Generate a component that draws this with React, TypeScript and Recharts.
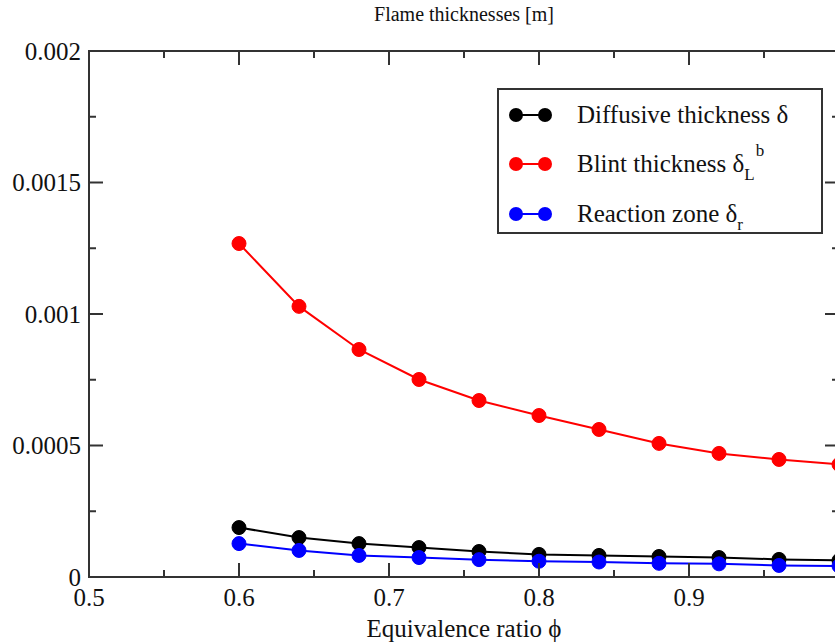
import React from 'react';
import { LineChart, Line, XAxis, YAxis, ReferenceArea, Legend } from 'recharts';

// equivalence ratio samples
const phi = [0.6, 0.64, 0.68, 0.72, 0.76, 0.8, 0.84, 0.88, 0.92, 0.96, 1.0];
// thicknesses [m]
const diffusive = [0.000188, 0.00015, 0.000127, 0.000112, 0.000097, 0.000086, 0.000082, 0.000078, 0.000074, 0.000067, 0.000063];
const blint = [0.001268, 0.001029, 0.000865, 0.000751, 0.000671, 0.000614, 0.000561, 0.000508, 0.00047, 0.000447, 0.000428];
const reaction = [0.000127, 0.000101, 0.000082, 0.000074, 0.000066, 0.00006, 0.000057, 0.000052, 0.00005, 0.000044, 0.000042];

const xTicks = [0.5, 0.55, 0.6, 0.65, 0.7, 0.75, 0.8, 0.85, 0.9, 0.95, 1.0];
const xTickLabels = ['0.5', '', '0.6', '', '0.7', '', '0.8', '', '0.9', '', ''];
const yTicks = [0, 0.00025, 0.0005, 0.00075, 0.001, 0.00125, 0.0015, 0.00175, 0.002];
const yTickLabels = ['0', '', '0.0005', '', '0.001', '', '0.0015', '', '0.002'];

const series = [
  { key: 'diffusive', name: 'Diffusive thickness δ', color: '#000000' },
  { key: 'blint', name: 'Blint thickness δ', color: '#ff0000' },
  { key: 'reaction', name: 'Reaction zone δ', color: '#0000ff' },
];

const data = phi.map((p, i) => ({
  phi: p,
  diffusive: diffusive[i],
  blint: blint[i],
  reaction: reaction[i],
}));

const FONT = '"Liberation Serif", "DejaVu Serif", serif';
const AXIS = '#333333';
const LEFT = 89;
const RIGHT = 839;
const TOP = 51;
const BOTTOM = 577;

const XTick = (props: any) => {
  const { x, index } = props;
  const len = index % 2 === 0 ? 14 : 7;
  return (
    <g>
      <line x1={x} y1={BOTTOM} x2={x} y2={BOTTOM - len} stroke={AXIS} strokeWidth={2} />
      <line x1={x} y1={TOP} x2={x} y2={TOP + len} stroke={AXIS} strokeWidth={2} />
      <text x={x} y={606} textAnchor="middle" fontSize={25} fontFamily={FONT} fill="#111">
        {xTickLabels[index]}
      </text>
    </g>
  );
};

const YTick = (props: any) => {
  const { y, index } = props;
  const len = index % 2 === 0 ? 14 : 7;
  return (
    <g>
      <line x1={LEFT} y1={y} x2={LEFT + len} y2={y} stroke={AXIS} strokeWidth={2} />
      <line x1={RIGHT - len} y1={y} x2={RIGHT} y2={y} stroke={AXIS} strokeWidth={2} />
      <text x={81} y={y + 8.5} textAnchor="end" fontSize={25} fontFamily={FONT} fill="#111">
        {yTickLabels[index]}
      </text>
    </g>
  );
};

const LegendBox = () => (
  <div
    style={{
      width: 322,
      height: 142,
      border: `2px solid ${AXIS}`,
      background: '#fff',
      fontFamily: FONT,
      fontSize: 25,
      color: '#111',
      boxSizing: 'content-box',
    }}
  >
    {series.map((s, i) => (
      <div key={s.key} style={{ height: 49.5, display: 'flex', alignItems: 'center', position: 'relative' }}>
        <svg width={70} height={20} style={{ marginLeft: 4 }}>
          <line x1={13} y1={10} x2={42} y2={10} stroke={s.color} strokeWidth={2} />
          <circle cx={13} cy={10} r={7} fill={s.color} />
          <circle cx={42} cy={10} r={7} fill={s.color} />
        </svg>
        <span style={{ marginLeft: 4, whiteSpace: 'nowrap' }}>
          {s.name}
          {i === 1 && (
            <>
              <span style={{ fontSize: 17, position: 'relative', top: 8 }}>L</span>
              <span style={{ fontSize: 17, position: 'relative', top: -16, marginLeft: 1 }}>b</span>
            </>
          )}
          {i === 2 && <span style={{ fontSize: 17, position: 'relative', top: 8 }}>r</span>}
        </span>
      </div>
    ))}
  </div>
);

export default function App() {
  return (
    <div style={{ position: 'absolute', left: 0, top: 0, width: 835, height: 643, overflow: 'hidden', background: '#fff' }}>
      <div
        style={{
          position: 'absolute',
          top: 0,
          left: LEFT,
          width: RIGHT - LEFT,
          textAlign: 'center',
          fontFamily: FONT,
          fontSize: 20,
          lineHeight: '28px',
          color: '#111',
        }}
      >
        Flame thicknesses [m]
      </div>
      <LineChart width={860} height={643} data={data} margin={{ top: TOP, right: 860 - RIGHT, bottom: 0, left: 0 }}>
        <ReferenceArea x1={0.5} x2={1.0} y1={0} y2={0.002} fill="none" stroke={AXIS} strokeWidth={2} />
        <XAxis
          type="number"
          dataKey="phi"
          domain={[0.5, 1.0]}
          ticks={xTicks}
          allowDataOverflow
          axisLine={false}
          tickLine={false}
          tick={<XTick />}
          height={643 - BOTTOM}
          label={{ value: 'Equivalence ratio ϕ', position: 'insideBottom', offset: 6, fontSize: 25, fontFamily: FONT, fill: '#111' }}
        />
        <YAxis
          type="number"
          domain={[0, 0.002]}
          ticks={yTicks}
          allowDataOverflow
          axisLine={false}
          tickLine={false}
          tick={<YTick />}
          width={LEFT}
        />
        {series.map((s) => (
          <Line
            key={s.key}
            type="linear"
            dataKey={s.key}
            name={s.name}
            stroke={s.color}
            strokeWidth={2}
            dot={{ r: 7, fill: s.color, stroke: s.color, strokeWidth: 1 }}
            isAnimationActive={false}
          />
        ))}
        <Legend
          layout="vertical"
          align="center"
          verticalAlign="middle"
          content={<LegendBox />}
          wrapperStyle={{ left: 497, top: 88, width: 326 }}
        />
      </LineChart>
    </div>
  );
}
